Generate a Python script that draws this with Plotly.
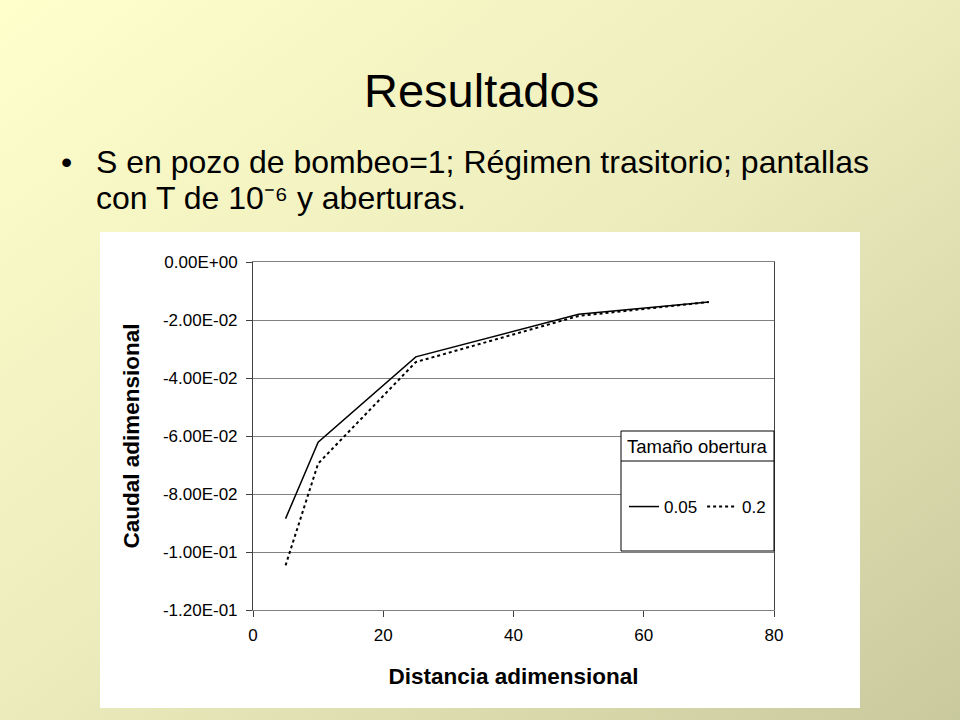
import base64
import plotly.graph_objects as go

# data
DISTANCIA = [5, 10, 25, 50, 70]
CAUDAL_005 = [-0.0885, -0.0621, -0.0327, -0.0180, -0.0138]
CAUDAL_02 = [-0.1046, -0.0695, -0.0345, -0.0186, -0.0138]
SERIES_NAMES = ["0.05", "0.2"]

Y_TICKS = [0, -0.02, -0.04, -0.06, -0.08, -0.10, -0.12]
Y_LABELS = ["0.00E+00", "-2.00E-02", "-4.00E-02", "-6.00E-02",
            "-8.00E-02", "-1.00E-01", "-1.20E-01"]
X_TICKS = [0, 20, 40, 60, 80]

W, H = 960, 720
# plot area in pixels
L, R, T, B = 253, 774, 262, 610
FONT = "Liberation Sans, Arial, sans-serif"


def px(x):
    return (x - L) / (R - L)


def py(y):
    return 1 - (y - T) / (B - T)


# slide background gradient as an inline svg
svg = (
    '<svg xmlns="http://www.w3.org/2000/svg" width="960" height="720">'
    '<defs><linearGradient id="g" x1="0" y1="0" x2="1" y2="1">'
    '<stop offset="0" stop-color="#ffffcc"/>'
    '<stop offset="0.5" stop-color="#ebebbc"/>'
    '<stop offset="1" stop-color="#c9c99e"/>'
    '</linearGradient></defs>'
    '<rect width="960" height="720" fill="url(#g)"/></svg>'
)
bg_src = "data:image/svg+xml;base64," + base64.b64encode(svg.encode()).decode()

fig = go.Figure()
fig.add_trace(go.Scatter(x=DISTANCIA, y=CAUDAL_005, name=SERIES_NAMES[0], mode="lines",
                         line=dict(color="black", width=1.5)))
fig.add_trace(go.Scatter(x=DISTANCIA, y=CAUDAL_02, name=SERIES_NAMES[1], mode="lines",
                         line=dict(color="black", width=2, dash="dot")))

fig.add_layout_image(dict(source=bg_src, xref="paper", yref="paper",
                          x=px(0), y=py(0), sizex=W / (R - L), sizey=H / (B - T),
                          xanchor="left", yanchor="top", sizing="stretch", layer="below"))

shapes = [
    # white chart panel
    dict(type="rect", xref="paper", yref="paper", x0=px(100), x1=px(860), y0=py(708), y1=py(232),
         fillcolor="white", line=dict(width=0), layer="below"),
    # legend box and divider
    dict(type="rect", xref="paper", yref="paper", x0=px(621), x1=px(774), y0=py(551), y1=py(431),
         fillcolor="white", line=dict(color="black", width=1)),
    dict(type="line", xref="paper", yref="paper", x0=px(621), x1=px(774), y0=py(461), y1=py(461),
         line=dict(color="black", width=1)),
]
fig.update_layout(shapes=shapes)

annotations = [
    dict(text="Resultados", x=px(481), y=py(90), font=dict(size=47)),
    dict(text="•", x=px(66), y=py(162), font=dict(size=32)),
    dict(text="S en pozo de bombeo=1; Régimen trasitorio; pantallas", x=px(94), y=py(162),
         xanchor="left", font=dict(size=32)),
    dict(text="con T de 10⁻⁶ y aberturas.", x=px(94), y=py(198),
         xanchor="left", font=dict(size=32)),
    dict(text="Tamaño obertura", x=px(697), y=py(446), font=dict(size=18.5)),
]
for a in annotations:
    a.update(xref="paper", yref="paper", showarrow=False,
             xanchor=a.get("xanchor", "center"), yanchor="middle")
    a["font"].update(family=FONT, color="black")
fig.update_layout(annotations=annotations)

fig.update_xaxes(range=[0, 80], tickvals=X_TICKS, ticks="outside", ticklen=6,
                 tickcolor="#404040", showgrid=False, zeroline=False,
                 showline=True, linecolor="#808080", linewidth=1, mirror=True,
                 ticklabelstandoff=4,
                 tickfont=dict(family=FONT, size=17, color="black"),
                 title=dict(text="<b>Distancia adimensional</b>", standoff=23,
                            font=dict(family=FONT, size=22.5, color="black")))
fig.update_yaxes(range=[-0.12, 0], tickvals=Y_TICKS, ticktext=Y_LABELS, ticks="outside",
                 ticklen=6, tickcolor="#404040", showgrid=True, gridcolor="#808080",
                 gridwidth=1, zeroline=False, showline=True, linecolor="#404040",
                 linewidth=1, mirror=True, ticklabelstandoff=5,
                 tickfont=dict(family=FONT, size=17, color="black"),
                 title=dict(text="<b>Caudal adimensional</b>", standoff=17,
                            font=dict(family=FONT, size=22.5, color="black")))

fig.update_layout(
    width=W, height=H,
    margin=dict(l=L, r=W - R, t=T, b=H - B),
    plot_bgcolor="white",
    paper_bgcolor="#f2f2c4",
    showlegend=True,
    legend=dict(orientation="h", x=px(624), y=py(507), xanchor="left", yanchor="middle",
                bgcolor="rgba(0,0,0,0)", borderwidth=0, itemwidth=30,
                font=dict(family=FONT, size=17, color="black")),
)

# full-bleed page: drop the default body margin
fig.write_html("out.html", config={"displayModeBar": False},
               post_script="document.body.style.margin='0';")
